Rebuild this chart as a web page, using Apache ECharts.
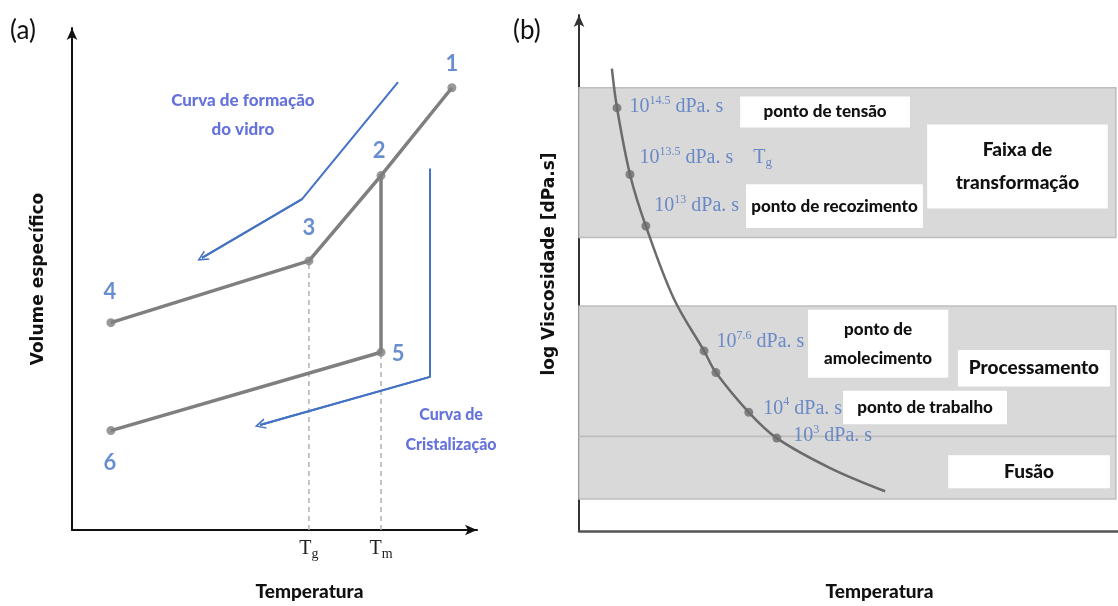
<!DOCTYPE html>
<html><head><meta charset="utf-8">
<script src="https://cdn.jsdelivr.net/npm/echarts@6/dist/echarts.min.js"></script>
<style>html,body{margin:0;padding:0;background:#fff}#c{width:1118px;height:606px}</style>
</head><body><div id="c"></div>
<script>
// ---------- Panel (a): specific volume vs temperature (schematic units) ----------
const pointNames  = ['1', '2', '3', '4', '5', '6'];
const pointTemp   = [93.8, 76.3, 58.5, 9.6, 76.3, 9.6];
const pointVolume = [88.1, 70.6, 53.6, 41.3, 35.4, 19.8];
const glassPathIdx   = [0, 1, 2, 3];      // 1 -> 2 -> 3 -> 4
const crystalPathIdx = [1, 4, 5];         // 2 -> 5 -> 6
const tickMain = ['T', 'T'];
const tickSub  = ['g', 'm'];
const tickIdx  = [2, 4];                  // Tg at point 3, Tm at point 5
const glassArrowTemp = [80.5, 56.8, 32.1];
const glassArrowVol  = [89.2, 65.9, 54.2];
const crystArrowTemp = [88.4, 88.4, 46.4];
const crystArrowVol  = [72.0, 30.5, 20.9];
const notesA = ['Curva de formação\ndo vidro', 'Curva de\nCristalização'];

// ---------- Panel (b): log viscosity vs temperature (schematic units) ----------
const curveTemp = [6.1, 7.05, 9.46, 12.4, 17.6, 23.2, 25.4, 31.5, 36.7, 46.6, 56.8];
const curveLogV = [89.6, 82.0, 69.1, 59.1, 45.0, 34.9, 30.7, 23.0, 18.0, 12.2, 7.7];
const markerIdx = [1, 2, 3, 5, 6, 7, 8];
const viscExp   = ['14.5', '13.5', '13', '7.6', '', '4', '3'];
const bandNames = ['transformação', 'processamento', 'fusão'];
const bandLow   = [56.9, 18.3, 6.2];
const bandHigh  = [85.9, 43.6, 18.3];
const boxTexts  = ['ponto de tensão', 'ponto de recozimento', 'Faixa de\ntransformação',
                   'ponto de\namolecimento', 'Processamento', 'ponto de trabalho', 'Fusão'];

// ---------- layout (positions / styles only) ----------
const pointLabelOffset = [[0, -24], [-2, -25], [0, -33], [-1, -31], [17, 2], [-1, 32]];
const notesAPos = [[42.2, 82.6, 17, 29], [93.6, 20.0, 16, 30]];
const viscLabelOffset = [[8, -1], [5, -17], [4, -20], [8, -9], [0, 0], [10, -4], [12, -2]];
const boxPos = [ // x1, x2, y1, y2, fontSize, lineHeight
  [29.9, 61.4, 78.2, 84.2, 17, 20],
  [31.0, 63.8, 58.7, 67.2, 17, 20],
  [64.6, 98.1, 62.5, 78.8, 19, 33],
  [42.5, 68.5, 29.7, 42.9, 17, 29],
  [70.3, 98.5, 28.0, 35.1, 19, 22],
  [49.0, 79.4, 20.7, 27.2, 17, 20],
  [68.5, 98.5, 8.3, 14.7, 19, 22]
];

const SANS = 'Lato, "Open Sans", sans-serif';
const SERIF = '"Liberation Serif", "DejaVu Serif", serif';
const HEAVY = 900;
const BLUE = '#4472c4';
const NOTE_BLUE = '#3f4fd2';
const SERIF_BLUE = '#4d74c2';
const chevron = 'path://M5,0 L10,10 L8.4,10 L5,3 L1.6,10 L0,10 Z';

const pt = i => [pointTemp[i], pointVolume[i]];
const zip = (a, b) => a.map((v, i) => [v, b[i]]);
const lastSeg = (a, b) => [[a[a.length - 2], b[b.length - 2]], [a[a.length - 1], b[b.length - 1]]];

const serifRich = {
  n: {fontFamily: SERIF, fontSize: 20, color: SERIF_BLUE, lineHeight: 24},
  s: {fontFamily: SERIF, fontSize: 12, color: SERIF_BLUE, lineHeight: 13, verticalAlign: 'top'},
  b: {fontFamily: SERIF, fontSize: 13, color: SERIF_BLUE, lineHeight: 13, verticalAlign: 'bottom'}
};

const chart = echarts.init(document.getElementById('c'));
const option = {
  animation: false,
  backgroundColor: '#fff',
  title: [
    {text: '(a)', left: 5, top: 13, textStyle: {fontFamily: SANS, fontSize: 26, fontWeight: 'normal', color: '#111'}},
    {text: '(b)', left: 508, top: 13, textStyle: {fontFamily: SANS, fontSize: 26, fontWeight: 'normal', color: '#111'}}
  ],
  grid: [
    {left: 72, top: 28, width: 405, height: 511},
    {left: 579, top: 15, width: 539, height: 518}
  ],
  xAxis: [
    {
      type: 'value', gridIndex: 0, min: 0, max: 100,
      axisLine: {show: true, symbol: ['none', 'arrow'], symbolSize: [8, 12], lineStyle: {color: '#111', width: 2}},
      axisTick: {show: false}, splitLine: {show: false},
      axisLabel: {
        show: true, margin: 7,
        customValues: tickIdx.map(i => pointTemp[i]),
        formatter: v => {
          const k = tickIdx.findIndex(i => pointTemp[i] === v);
          return '{t|' + tickMain[k] + '}{s|' + tickSub[k] + '}';
        },
        rich: {
          t: {fontFamily: SERIF, fontSize: 20, color: '#222', lineHeight: 24},
          s: {fontFamily: SERIF, fontSize: 14, color: '#222', lineHeight: 13, verticalAlign: 'bottom'}
        }
      },
      name: 'Temperatura', nameLocation: 'middle', nameGap: 52,
      nameTextStyle: {fontFamily: SANS, fontSize: 19, fontWeight: HEAVY, color: '#111', padding: [0, 0, 0, 70]}
    },
    {
      type: 'value', gridIndex: 1, min: 0, max: 100,
      axisLine: {show: true, lineStyle: {color: '#555', width: 2.5}},
      axisTick: {show: false}, splitLine: {show: false}, axisLabel: {show: false},
      name: 'Temperatura', nameLocation: 'middle', nameGap: 51,
      nameTextStyle: {fontFamily: SANS, fontSize: 19, fontWeight: HEAVY, color: '#111', padding: [0, 0, 0, 62]}
    }
  ],
  yAxis: [
    {
      type: 'value', gridIndex: 0, min: 0, max: 100,
      axisLine: {show: true, symbol: ['none', 'arrow'], symbolSize: [8, 12], lineStyle: {color: '#111', width: 2}},
      axisTick: {show: false}, splitLine: {show: false}, axisLabel: {show: false},
      name: 'Volume específico', nameLocation: 'middle', nameGap: 25, nameRotate: 90,
      nameTextStyle: {fontFamily: '"DejaVu Sans"', fontSize: 17, fontWeight: 'bold', color: '#111'}
    },
    {
      type: 'value', gridIndex: 1, min: 0, max: 100,
      axisLine: {show: true, symbol: ['none', 'arrow'], symbolSize: [8, 12], lineStyle: {color: '#333', width: 2}},
      axisTick: {show: false}, splitLine: {show: false}, axisLabel: {show: false},
      name: 'log Viscosidade [dPa.s]', nameLocation: 'middle', nameGap: 21, nameRotate: 90,
      nameTextStyle: {fontFamily: '"DejaVu Sans"', fontSize: 17, fontWeight: 'bold', color: '#111', padding: [0, 0, 0, 18]}
    }
  ],
  series: [
    // ---- panel (a) ----
    {type: 'line', xAxisIndex: 0, yAxisIndex: 0, z: 2, silent: true,
     data: [[pointTemp[tickIdx[0]], 0], pt(tickIdx[0])], showSymbol: false,
     lineStyle: {color: '#b0b0b0', width: 1.5, type: [5, 4]}},
    {type: 'line', xAxisIndex: 0, yAxisIndex: 0, z: 2, silent: true,
     data: [[pointTemp[tickIdx[1]], 0], pt(tickIdx[1])], showSymbol: false,
     lineStyle: {color: '#b0b0b0', width: 1.5, type: [5, 4]}},
    {type: 'line', xAxisIndex: 0, yAxisIndex: 0, z: 3, silent: true,
     data: glassPathIdx.map(pt), showSymbol: false,
     lineStyle: {color: '#7f7f7f', width: 3.5}},
    {type: 'line', xAxisIndex: 0, yAxisIndex: 0, z: 3, silent: true,
     data: crystalPathIdx.map(pt), showSymbol: false,
     lineStyle: {color: '#7f7f7f', width: 3.5}},
    {type: 'scatter', xAxisIndex: 0, yAxisIndex: 0, z: 4, symbolSize: 9,
     itemStyle: {color: '#7f7f7f'},
     data: pointNames.map((n, i) => ({
       value: pt(i),
       label: {show: true, position: 'inside', formatter: n, offset: pointLabelOffset[i],
               fontFamily: SANS, fontSize: 22, fontWeight: 'bold', color: BLUE}
     }))},
    // blue guide arrows: polyline body + arrow-headed last segment
    {type: 'line', xAxisIndex: 0, yAxisIndex: 0, z: 3, silent: true, showSymbol: false,
     data: zip(glassArrowTemp, glassArrowVol), lineStyle: {color: BLUE, width: 2}},
    {type: 'line', xAxisIndex: 0, yAxisIndex: 0, z: 3, silent: true, showSymbol: false,
     data: zip(crystArrowTemp, crystArrowVol), lineStyle: {color: BLUE, width: 2}},
    {type: 'lines', coordinateSystem: 'cartesian2d', xAxisIndex: 0, yAxisIndex: 0, z: 3, silent: true,
     symbol: ['none', chevron], symbolSize: [14, 11],
     lineStyle: {color: BLUE, width: 2, opacity: 1},
     data: [{coords: lastSeg(glassArrowTemp, glassArrowVol)}, {coords: lastSeg(crystArrowTemp, crystArrowVol)}]},
    {type: 'scatter', xAxisIndex: 0, yAxisIndex: 0, z: 5, symbolSize: 1,
     itemStyle: {color: 'rgba(0,0,0,0)'},
     data: notesA.map((t, i) => ({
       value: [notesAPos[i][0], notesAPos[i][1]],
       label: {show: true, position: 'inside', formatter: t, fontFamily: SANS, fontWeight: HEAVY,
               fontSize: notesAPos[i][2], lineHeight: notesAPos[i][3], color: NOTE_BLUE, align: 'center'}
     }))},
    // ---- panel (b) ----
    {type: 'line', xAxisIndex: 1, yAxisIndex: 1, z: 1, silent: true, data: [[0, 0]], symbol: 'none',
     lineStyle: {opacity: 0},
     markArea: {silent: true,
       itemStyle: {color: '#d9d9d9', borderColor: '#bdbdbd', borderWidth: 1.5},
       data: bandNames.map((n, i) => [{name: n, coord: [0, bandLow[i]]}, {coord: [99.6, bandHigh[i]]}]),
       label: {show: false}}},
    {type: 'line', xAxisIndex: 1, yAxisIndex: 1, z: 2, silent: true, data: [[0, 0]], symbol: 'none',
     lineStyle: {opacity: 0},
     markArea: {silent: true,
       itemStyle: {color: '#ffffff', borderWidth: 0},
       data: boxTexts.map((t, i) => [
         {name: t, coord: [boxPos[i][0], boxPos[i][2]],
          label: {fontSize: boxPos[i][4], lineHeight: boxPos[i][5]}},
         {coord: [boxPos[i][1], boxPos[i][3]]}
       ]),
       label: {show: true, position: 'inside', fontFamily: SANS, fontWeight: HEAVY, color: '#111',
               align: 'center', verticalAlign: 'middle'}}},
    {type: 'line', xAxisIndex: 1, yAxisIndex: 1, z: 3, silent: true, smooth: 0.35,
     data: zip(curveTemp, curveLogV), showSymbol: false,
     lineStyle: {color: '#6b6b6b', width: 2.5}},
    {type: 'scatter', xAxisIndex: 1, yAxisIndex: 1, z: 4, symbolSize: 9,
     itemStyle: {color: '#6b6b6b'},
     data: markerIdx.map((k, i) => ({
       value: [curveTemp[k], curveLogV[k]],
       label: {
         show: viscExp[i] !== '', position: 'right', distance: 0, offset: viscLabelOffset[i],
         formatter: '{n|10}{s|' + viscExp[i] + '}{n| dPa. s}' + (viscExp[i] === '13.5' ? '{n|    T}{b|g}' : ''),
         rich: serifRich
       }
     }))}
  ]
};
chart.setOption(option);
</script>
</body></html>
